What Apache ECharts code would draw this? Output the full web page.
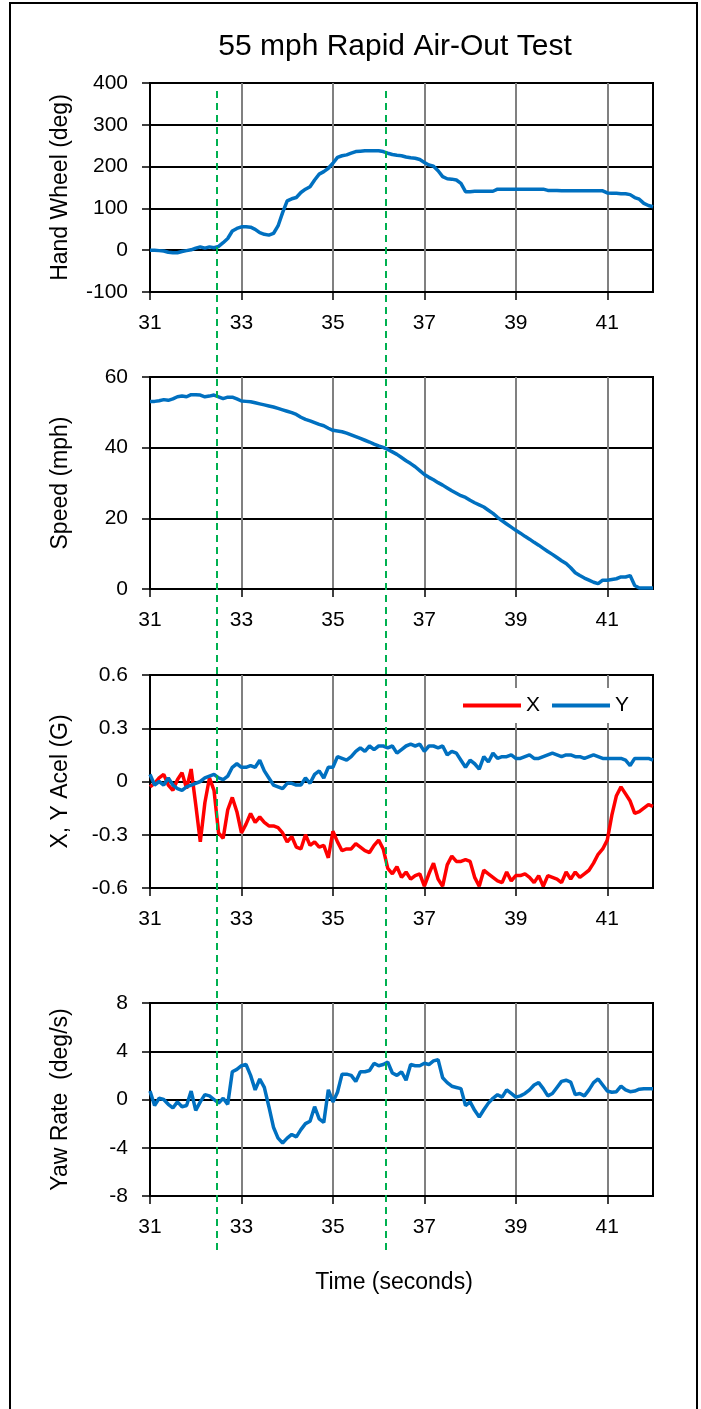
<!DOCTYPE html>
<html>
<head>
<meta charset="utf-8">
<title>55 mph Rapid Air-Out Test</title>
<script src="https://cdn.jsdelivr.net/npm/echarts@6/dist/echarts.min.js"></script>
<style>
    html, body { margin: 0; padding: 0; background: #fff; }
    #chart { width: 701px; height: 1409px; }
</style>
</head>
<body>
<div id="chart"></div>
<script>
// time base (seconds), read every 0.1 s
var times = [
    31.0, 31.1, 31.2, 31.3, 31.4, 31.5, 31.6, 31.7, 31.8, 31.9,
    32.0, 32.1, 32.2, 32.3, 32.4, 32.5, 32.6, 32.7, 32.8, 32.9,
    33.0, 33.1, 33.2, 33.3, 33.4, 33.5, 33.6, 33.7, 33.8, 33.9,
    34.0, 34.1, 34.2, 34.3, 34.4, 34.5, 34.6, 34.7, 34.8, 34.9,
    35.0, 35.1, 35.2, 35.3, 35.4, 35.5, 35.6, 35.7, 35.8, 35.9,
    36.0, 36.1, 36.2, 36.3, 36.4, 36.5, 36.6, 36.7, 36.8, 36.9,
    37.0, 37.1, 37.2, 37.3, 37.4, 37.5, 37.6, 37.7, 37.8, 37.9,
    38.0, 38.1, 38.2, 38.3, 38.4, 38.5, 38.6, 38.7, 38.8, 38.9,
    39.0, 39.1, 39.2, 39.3, 39.4, 39.5, 39.6, 39.7, 39.8, 39.9,
    40.0, 40.1, 40.2, 40.3, 40.4, 40.5, 40.6, 40.7, 40.8, 40.9,
    41.0, 41.1, 41.2, 41.3, 41.4, 41.5, 41.6, 41.7, 41.8, 41.9,
    42.0
];

// hand wheel angle (deg)
var handWheel = [
    0, 0, -1, -2, -5, -6, -6, -3, -1, 1,
    5, 8, 5, 8, 6, 9, 18, 28, 46, 52,
    56, 56, 55, 50, 42, 38, 36, 40, 58, 90,
    118, 123, 126, 138, 146, 152, 168, 182, 188, 196,
    208, 222, 226, 228, 232, 236, 237, 238, 238, 238,
    238, 236, 232, 229, 227, 226, 223, 221, 220, 217,
    210, 204, 201, 190, 176, 171, 170, 168, 160, 140,
    140, 141, 141, 141, 141, 141, 146, 146, 146, 146,
    146, 146, 146, 146, 146, 146, 146, 143, 143, 143,
    142, 142, 142, 142, 142, 142, 142, 142, 142, 142,
    137, 136, 136, 135, 135, 133, 126, 122, 112, 107,
    104
];

// speed (mph)
var speed = [
    53.1, 53.1, 53.3, 53.6, 53.4, 53.8, 54.4, 54.6, 54.4, 55.0,
    55.0, 54.9, 54.4, 54.6, 54.9, 54.4, 53.9, 54.3, 54.3, 53.8,
    53.2, 53.1, 53.0, 52.7, 52.4, 52.1, 51.8, 51.5, 51.1, 50.7,
    50.3, 49.9, 49.4, 48.6, 48.0, 47.6, 47.1, 46.6, 46.2, 45.5,
    44.9, 44.7, 44.5, 44.1, 43.6, 43.1, 42.6, 42.1, 41.6, 41.0,
    40.5, 40.1, 39.5, 38.8, 38.1, 37.2, 36.3, 35.5, 34.6, 33.5,
    32.4, 31.6, 30.9, 30.1, 29.4, 28.6, 27.8, 27.1, 26.4, 25.9,
    25.1, 24.4, 23.8, 23.2, 22.3, 21.4, 20.3, 19.3, 18.4, 17.5,
    16.6, 15.8, 14.9, 14.1, 13.2, 12.4, 11.5, 10.6, 9.8, 8.9,
    8.0, 7.2, 6.0, 4.6, 3.8, 3.1, 2.5, 1.9, 1.5, 2.5,
    2.5, 2.7, 2.9, 3.4, 3.4, 3.8, 1.0, 0.3, 0.3, 0.3,
    0.3
];

// longitudinal acceleration X (G)
var accelX = [
    -0.03, -0.01, 0.02, 0.04, -0.02, -0.05, 0.01, 0.05, -0.04, 0.07,
    -0.13, -0.34, -0.12, 0.02, -0.05, -0.29, -0.32, -0.16, -0.09, -0.17,
    -0.29, -0.24, -0.18, -0.23, -0.20, -0.23, -0.25, -0.25, -0.26, -0.29,
    -0.34, -0.31, -0.37, -0.38, -0.30, -0.36, -0.34, -0.37, -0.36, -0.43,
    -0.28, -0.34, -0.39, -0.38, -0.38, -0.35, -0.37, -0.39, -0.40, -0.36,
    -0.33, -0.38, -0.49, -0.52, -0.48, -0.54, -0.51, -0.55, -0.53, -0.52,
    -0.59, -0.52, -0.46, -0.55, -0.59, -0.47, -0.42, -0.45, -0.45, -0.44,
    -0.45, -0.54, -0.59, -0.50, -0.52, -0.54, -0.56, -0.57, -0.51, -0.56,
    -0.53, -0.53, -0.52, -0.54, -0.57, -0.53, -0.59, -0.53, -0.54, -0.55,
    -0.57, -0.51, -0.55, -0.51, -0.54, -0.52, -0.50, -0.46, -0.41, -0.38,
    -0.33, -0.19, -0.08, -0.03, -0.07, -0.11, -0.18, -0.17, -0.15, -0.13,
    -0.14
];

// lateral acceleration Y (G)
var accelY = [
    0.04, -0.02, 0.00, -0.02, 0.02, -0.02, -0.04, -0.05, -0.03, -0.02,
    -0.01, 0.00, 0.02, 0.03, 0.04, 0.02, 0.01, 0.03, 0.08, 0.10,
    0.08, 0.08, 0.09, 0.08, 0.12, 0.06, 0.02, -0.02, -0.03, -0.04,
    -0.01, -0.01, -0.02, -0.02, 0.02, -0.01, 0.04, 0.06, 0.02, 0.08,
    0.08, 0.14, 0.13, 0.12, 0.14, 0.17, 0.19, 0.17, 0.20, 0.18,
    0.20, 0.20, 0.19, 0.20, 0.16, 0.18, 0.20, 0.21, 0.20, 0.21,
    0.17, 0.20, 0.20, 0.19, 0.20, 0.15, 0.17, 0.16, 0.12, 0.08,
    0.12, 0.10, 0.07, 0.14, 0.11, 0.16, 0.13, 0.14, 0.14, 0.15,
    0.13, 0.13, 0.14, 0.15, 0.13, 0.13, 0.14, 0.15, 0.16, 0.15,
    0.14, 0.15, 0.15, 0.14, 0.14, 0.13, 0.14, 0.15, 0.14, 0.13,
    0.13, 0.13, 0.13, 0.13, 0.12, 0.09, 0.13, 0.13, 0.13, 0.13,
    0.12
];

// yaw rate (deg/s)
var yawRate = [
    0.7, -0.5, 0.1, 0.0, -0.4, -0.7, -0.2, -0.6, -0.5, 0.7,
    -0.9, -0.2, 0.4, 0.3, 0.0, -0.3, 0.1, -0.4, 2.3, 2.5,
    2.8, 2.9, 2.0, 0.8, 1.7, 1.0, -0.6, -2.3, -3.2, -3.6,
    -3.2, -2.9, -3.1, -2.5, -2.0, -1.8, -0.6, -1.6, -1.9, 0.8,
    -0.2, 0.6, 2.1, 2.1, 2.0, 1.5, 2.3, 2.3, 2.4, 3.0,
    2.8, 2.9, 3.1, 2.2, 2.0, 2.3, 1.6, 2.9, 2.8, 2.8,
    3.0, 2.9, 3.2, 3.3, 1.8, 1.4, 1.1, 1.0, 0.9, -0.5,
    -0.2, -0.9, -1.45, -0.85, -0.3, 0.1, 0.4, 0.2, 0.8, 0.5,
    0.2, 0.3, 0.5, 0.8, 1.2, 1.4, 0.9, 0.3, 0.5, 1.0,
    1.5, 1.6, 1.45, 0.4, 0.5, 0.3, 0.8, 1.4, 1.7, 1.2,
    0.7, 0.6, 0.65, 1.1, 0.8, 0.65, 0.7, 0.85, 0.9, 0.9,
    0.9
];

var xTicks = [31, 33, 35, 37, 39, 41];
var eventTimes = [32.47, 36.16];   // green dashed markers

(function () {
    var chart = echarts.init(document.getElementById('chart'));
    var font = 'Liberation Sans';
    var blue = '#0070C0';
    var red = '#FF0000';

    function pairs(vals) {
        return times.map(function (t, i) { return [t, vals[i]]; });
    }

    var panels = [
        { top: 83, height: 209, min: -100, max: 400, interval: 100, name: 'Hand Wheel (deg)' },
        { top: 377, height: 212, min: 0, max: 60, interval: 20, name: 'Speed (mph)' },
        { top: 675, height: 213, min: -0.6, max: 0.6, interval: 0.3, name: 'X, Y Acel (G)' },
        { top: 1003, height: 193, min: -8, max: 8, interval: 4, name: 'Yaw Rate  (deg/s)' }
    ];

    var grid = [], xAxis = [], yAxis = [];
    panels.forEach(function (p, i) {
        grid.push({
            left: 150, right: 48, top: p.top, height: p.height,
            show: true, borderColor: '#000', borderWidth: 2
        });
        xAxis.push({
            gridIndex: i, type: 'value', min: 31, max: 42, interval: 2,
            axisLine: { onZero: false, lineStyle: { color: '#000', width: 2 } },
            axisTick: { length: 8, customValues: xTicks, lineStyle: { color: '#000', width: 1.5 } },
            axisLabel: {
                customValues: xTicks, margin: 21,
                color: '#000', fontSize: 21, fontFamily: font
            },
            splitLine: { show: true, lineStyle: { color: '#808080', width: 2 } }
        });
        yAxis.push({
            gridIndex: i, type: 'value', min: p.min, max: p.max, interval: p.interval,
            name: p.name, nameLocation: 'middle', nameGap: 78,
            nameTextStyle: { color: '#000', fontSize: 23, fontFamily: font },
            axisLine: { show: true, lineStyle: { color: '#000', width: 2 } },
            axisTick: { show: true, length: 8, lineStyle: { color: '#000', width: 1.5 } },
            axisLabel: { margin: 22, color: '#000', fontSize: 21, fontFamily: font },
            splitLine: { show: true, lineStyle: { color: '#000', width: 2 } }
        });
    });

    // overlay grid spanning all panels for the dashed event markers
    grid.push({ left: 150, right: 48, top: 89, height: 1161, show: false });
    xAxis.push({ gridIndex: 4, type: 'value', min: 31, max: 42, show: false });
    yAxis.push({ gridIndex: 4, type: 'value', min: 0, max: 1, show: false });

    function lineSeries(name, vals, idx, color) {
        return {
            name: name, type: 'line', xAxisIndex: idx, yAxisIndex: idx,
            data: pairs(vals), showSymbol: false, symbol: 'none',
            lineStyle: { color: color, width: 3.5 }, itemStyle: { color: color },
            animation: false
        };
    }

    var option = {
        animation: false,
        textStyle: { fontFamily: font },
        grid: grid,
        xAxis: xAxis,
        yAxis: yAxis,
        legend: {
            data: ['X', 'Y'],
            left: 446, top: 688,
            padding: [7, 8, 7, 17],
            itemGap: 12, itemWidth: 58, itemHeight: 4, icon: 'rect',
            backgroundColor: '#fff',
            textStyle: { color: '#000', fontSize: 21, fontFamily: font }
        },
        graphic: [
            {
                type: 'rect', shape: { x: 10, y: 3, width: 687, height: 1430 },
                style: { fill: 'transparent', stroke: '#000', lineWidth: 2 }, z: 100
            },
            {
                type: 'text', x: 395, y: 47,
                style: {
                    text: '55 mph Rapid Air-Out Test', fill: '#000',
                    font: '30px "Liberation Sans"',
                    align: 'center', verticalAlign: 'middle',
                    textAlign: 'center', textVerticalAlign: 'middle'
                }
            },
            {
                type: 'text', x: 394, y: 1283,
                style: {
                    text: 'Time (seconds)', fill: '#000',
                    font: '23px "Liberation Sans"',
                    align: 'center', verticalAlign: 'middle',
                    textAlign: 'center', textVerticalAlign: 'middle'
                }
            }
        ],
        series: [
            lineSeries('Hand Wheel', handWheel, 0, blue),
            lineSeries('Speed', speed, 1, blue),
            lineSeries('X', accelX, 2, red),
            lineSeries('Y', accelY, 2, blue),
            lineSeries('Yaw Rate', yawRate, 3, blue),
            {
                type: 'line', xAxisIndex: 4, yAxisIndex: 4, data: [],
                markLine: {
                    silent: true, symbol: ['none', 'none'], animation: false,
                    label: { show: false },
                    lineStyle: { color: '#00B050', type: [7, 5], width: 2 },
                    data: eventTimes.map(function (t) { return { xAxis: t }; })
                }
            }
        ]
    };
    chart.setOption(option);
})();
</script>
</body>
</html>
